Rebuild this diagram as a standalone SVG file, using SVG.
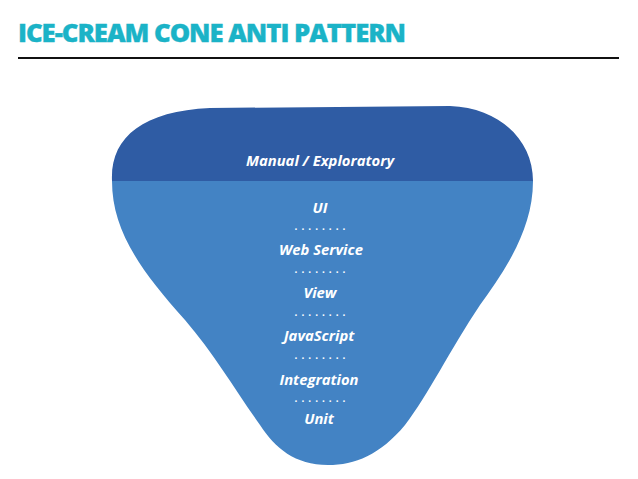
<svg xmlns="http://www.w3.org/2000/svg" width="638" height="479" viewBox="0 0 638 479">
<style>
.title{font-family:"Open Sans","Liberation Sans",sans-serif;font-weight:800;fill:#1bb3c7;stroke:#1bb3c7;stroke-width:0.35px;font-size:25px;letter-spacing:-1px}
.lbl{font-family:"Open Sans","Liberation Sans",sans-serif;font-weight:bold;font-style:italic;fill:#ffffff;font-size:14.8px;text-anchor:middle}
.dots{font-family:"Open Sans","Liberation Sans",sans-serif;font-weight:bold;fill:#ffffff;font-size:10px;text-anchor:middle;letter-spacing:4px}
</style>
<defs>
<clipPath id="cone">
<path d="M112,181 C110,138 142,111 210,108 L450,106 C500,108 533,140 533,181 C533,230 505,270 480,305 C450,350 428,395 405,425 C380,455 355,465 328,465 C295,465 275,448 260,425 C235,390 215,355 185,320 C140,270 112,230 112,181 Z"/>
</clipPath>
</defs>
<rect width="638" height="479" fill="#ffffff"/>
<g id="header">
<text class="title" x="18" y="42" textLength="387" lengthAdjust="spacingAndGlyphs">ICE-CREAM CONE ANTI PATTERN</text>
<line x1="18" y1="58" x2="619" y2="58" stroke="#111111" stroke-width="2"/>
</g>
<g id="cone-shape" clip-path="url(#cone)">
<rect x="100" y="100" width="440" height="81" fill="#2f5ca4"/>
<rect x="100" y="181" width="440" height="290" fill="#4383c4"/>
</g>
<g id="layer-manual"><text class="lbl" x="320" y="166">Manual / Exploratory</text></g>
<g id="layer-ui"><text class="lbl" x="320" y="213">UI</text></g>
<text class="dots" x="322" y="230">........</text>
<g id="layer-webservice"><text class="lbl" x="321" y="255">Web Service</text></g>
<text class="dots" x="322" y="273">........</text>
<g id="layer-view"><text class="lbl" x="320" y="298">View</text></g>
<text class="dots" x="322" y="316">........</text>
<g id="layer-javascript"><text class="lbl" x="319" y="341">JavaScript</text></g>
<text class="dots" x="322" y="359">........</text>
<g id="layer-integration"><text class="lbl" x="319" y="385">Integration</text></g>
<text class="dots" x="322" y="402">........</text>
<g id="layer-unit"><text class="lbl" x="319" y="424">Unit</text></g>
</svg>
